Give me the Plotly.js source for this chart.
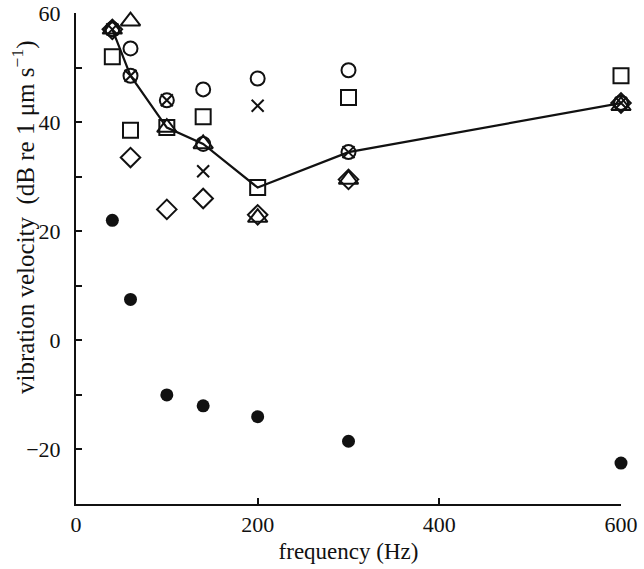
<!DOCTYPE html>
<html>
<head>
<meta charset="utf-8">
<script src="https://cdn.plot.ly/plotly-3.0.1.min.js"></script>
<style>html,body{margin:0;padding:0;background:#fff;} #chart{width:644px;height:569px;}</style>
</head>
<body>
<div id="chart"></div>
<script>
// frequencies (Hz)
const freq = [40, 60, 100, 140, 200, 300, 600];
// series values (dB re 1 µm s^-1)
const circleOpen   = [57, 53.5, 44, 46, 48, 49.5, 43.5];
const circleOpen2  = [57, 48.5, null, 36, null, 34.5, 43.5];
const squareOpen   = [52, 38.5, 39, 41, 28, 44.5, 48.5];
const triangleOpen = [57, 58.5, 39, 36, 22.5, 29.5, 43];
const diamondOpen  = [57, 33.5, 24, 26, 23, 29.5, 43.5];
const crossSeries  = [57, 48.5, 44, 31, 43, 34.5, 43.5];
const filledCircle = [22, 7.5, -10, -12, -14, -18.5, -22.5];
const thresholdLine = [57, 48.5, 39, 36, 28, 34.5, 43.5];
// tick labels
const yTickVals = [-20, 0, 20, 40, 60];
const yTickText = ['\u221220', '0', '20', '40', '60'];
const xTickVals = [0, 200, 400, 600];
const xTickText = ['0', '200', '400', '600'];
const yTitle = 'vibration velocity  (dB re 1 \u03BCm s<sup>\u22121</sup>)';
const xTitle = 'frequency (Hz)';

const font = 'Liberation Serif, Times New Roman, serif';
function markerTrace(y, symbol, size, filled) {
  return {
    x: freq, y: y, type: 'scatter', mode: 'markers', cliponaxis: false,
    showlegend: false, hoverinfo: 'x+y',
    marker: {symbol: symbol, size: size, color: '#111',
      line: {color: '#111', width: filled ? 0 : 2}}
  };
}
const data = [
  {x: freq, y: thresholdLine, type: 'scatter', mode: 'lines', cliponaxis: false,
   showlegend: false, line: {color: '#111', width: 2.2}},
  markerTrace(filledCircle, 'circle', 13, true),
  markerTrace(circleOpen, 'circle-open', 14, false),
  markerTrace(circleOpen2, 'circle-open', 14, false),
  markerTrace(squareOpen, 'square-open', 15, false),
  markerTrace(triangleOpen, 'triangle-up-open', 17, false),
  markerTrace(diamondOpen, 'diamond-open', 15, false),
  markerTrace(crossSeries, 'x-thin-open', 12, false)
];
const layout = {
  width: 644, height: 569,
  margin: {l: 76, r: 23, t: 13, b: 65},
  paper_bgcolor: '#fff', plot_bgcolor: '#fff',
  font: {family: font, size: 22, color: '#111'},
  xaxis: {
    range: [0, 600], showgrid: false, zeroline: false,
    showline: true, linecolor: '#111', linewidth: 2,
    ticks: 'inside', ticklen: 6, tickwidth: 2, tickcolor: '#111',
    tickmode: 'array', tickvals: xTickVals, ticktext: xTickText,
    tickfont: {family: font, size: 22, color: '#111'},
    title: {text: xTitle, font: {family: font, size: 23, color: '#111'}, standoff: 6}
  },
  yaxis: {
    range: [-30, 60], showgrid: false, zeroline: false,
    showline: true, linecolor: '#111', linewidth: 2,
    ticks: 'inside', ticklen: 6, tickwidth: 2, tickcolor: '#111',
    tickmode: 'array', tickvals: yTickVals, ticktext: yTickText,
    ticklabelstandoff: 9,
    tickfont: {family: font, size: 22, color: '#111'},
    minor: {tick0: 0, dtick: 10, ticks: 'inside', ticklen: 6, tickwidth: 2, tickcolor: '#111', showgrid: false}
  },
  annotations: [{
    text: yTitle, xref: 'paper', yref: 'paper', x: -0.095, y: 0.585,
    xanchor: 'center', yanchor: 'middle', textangle: -90, showarrow: false,
    font: {family: font, size: 25, color: '#111'}
  }]
};
Plotly.newPlot('chart', data, layout, {staticPlot: true, displayModeBar: false});
</script>
</body>
</html>
